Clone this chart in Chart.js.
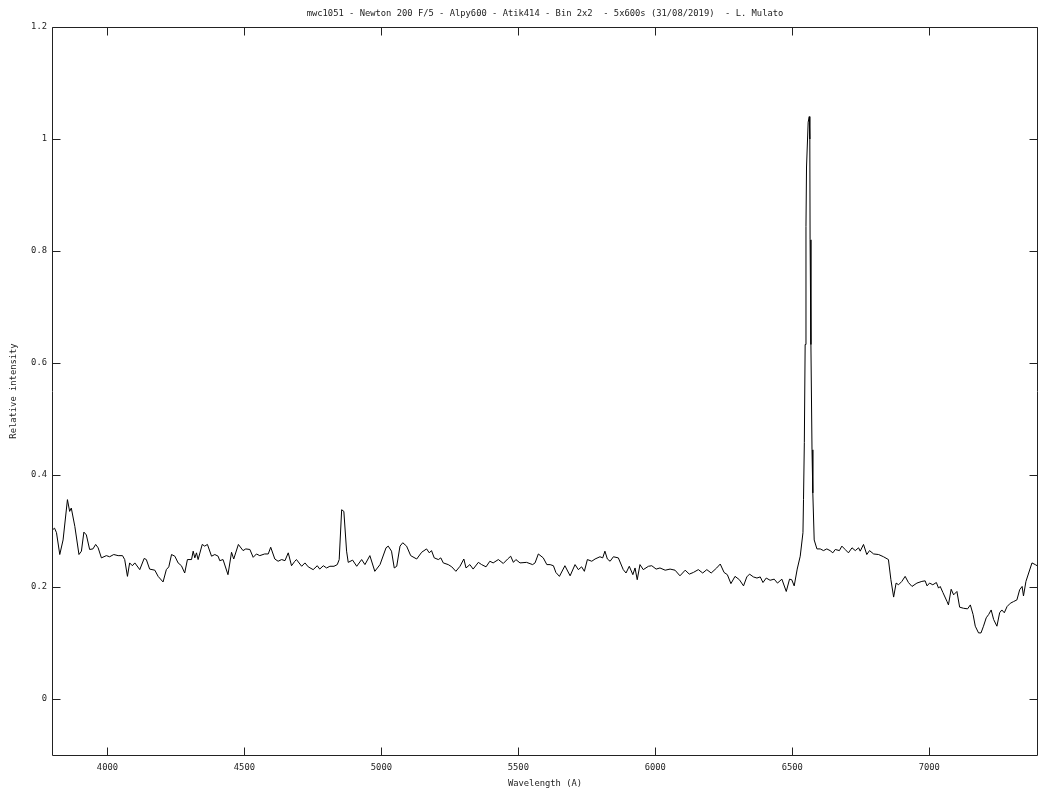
<!DOCTYPE html>
<html>
<head>
<meta charset="utf-8">
<title>mwc1051 spectrum</title>
<script src="https://cdn.jsdelivr.net/npm/chart.js@4.4.1/dist/chart.umd.min.js"></script>
<style>
  html, body { margin: 0; padding: 0; background: #fff; }
  #wrap { width: 1040px; height: 792px; }
</style>
</head>
<body>
<div id="wrap"><canvas id="spectrum" width="1040" height="792"></canvas></div>
<script>
// Wavelength (A) and relative intensity
const waves = [
  3799, 3807, 3814, 3826, 3838, 3854, 3862, 3868, 3881, 3896, 3905, 3914, 3923, 3935, 3947, 3957,
  3966, 3978, 3996, 4008, 4023, 4039, 4055, 4063, 4073, 4081, 4091, 4100, 4118, 4134, 4142, 4154,
  4173, 4185, 4203, 4215, 4224, 4234, 4246, 4258, 4270, 4282, 4292, 4307, 4313, 4319, 4325, 4331,
  4346, 4355, 4365, 4380, 4392, 4404, 4410, 4422, 4440, 4453, 4461, 4478, 4495, 4505, 4520, 4532,
  4544, 4556, 4574, 4587, 4596, 4611, 4623, 4636, 4648, 4660, 4672, 4684, 4690, 4709, 4721, 4733,
  4751, 4766, 4775, 4788, 4800, 4812, 4827, 4839, 4846, 4855, 4863, 4873, 4879, 4895, 4910, 4928,
  4940, 4958, 4976, 4995, 5017, 5025, 5037, 5047, 5056, 5068, 5078, 5092, 5107, 5129, 5147, 5165,
  5175, 5183, 5193, 5208, 5217, 5226, 5244, 5257, 5272, 5287, 5301, 5309, 5323, 5335, 5354, 5366,
  5382, 5396, 5408, 5427, 5445, 5461, 5472, 5482, 5491, 5506, 5530, 5552, 5561, 5573, 5591, 5604,
  5616, 5628, 5637, 5650, 5670, 5689, 5707, 5719, 5731, 5741, 5752, 5768, 5780, 5798, 5808, 5816,
  5825, 5835, 5847, 5865, 5883, 5893, 5905, 5918, 5926, 5934, 5944, 5956, 5975, 5987, 6003, 6017,
  6036, 6054, 6072, 6090, 6109, 6124, 6139, 6157, 6173, 6188, 6204, 6224, 6237, 6251, 6263, 6276,
  6291, 6307, 6322, 6334, 6344, 6358, 6371, 6383, 6393, 6405, 6419, 6434, 6446, 6462, 6478, 6490,
  6498, 6507, 6518, 6529, 6539, 6541, 6544, 6547, 6550, 6552, 6558, 6562, 6564, 6565, 6568, 6572,
  6575, 6580, 6590, 6602, 6614, 6626, 6638, 6648, 6657, 6672, 6681, 6693, 6705, 6718, 6730, 6742,
  6748, 6760, 6772, 6782, 6797, 6815, 6833, 6851, 6860, 6870, 6879, 6888, 6900, 6912, 6924, 6937,
  6955, 6973, 6985, 6992, 7001, 7013, 7026, 7034, 7040, 7050, 7065, 7070, 7080, 7089, 7101, 7111,
  7125, 7140, 7150, 7160, 7168, 7180, 7189, 7198, 7208, 7217, 7226, 7235, 7247, 7257, 7265, 7274,
  7284, 7296, 7308, 7320, 7330, 7339, 7344, 7353, 7363, 7375, 7387, 7397
];
const intensity = [
  0.302, 0.305, 0.297, 0.258, 0.284, 0.356, 0.335, 0.341, 0.308, 0.258, 0.264, 0.298, 0.293, 0.267, 0.268, 0.276,
  0.270, 0.252, 0.256, 0.254, 0.258, 0.256, 0.256, 0.249, 0.219, 0.243, 0.238, 0.243, 0.231, 0.251, 0.249, 0.232,
  0.230, 0.219, 0.209, 0.231, 0.236, 0.258, 0.255, 0.243, 0.238, 0.225, 0.249, 0.249, 0.264, 0.252, 0.261, 0.249,
  0.276, 0.273, 0.276, 0.255, 0.258, 0.255, 0.247, 0.249, 0.222, 0.262, 0.250, 0.276, 0.265, 0.268, 0.267, 0.253,
  0.259, 0.256, 0.259, 0.259, 0.271, 0.250, 0.246, 0.249, 0.247, 0.261, 0.238, 0.246, 0.249, 0.237, 0.243, 0.236,
  0.231, 0.238, 0.232, 0.238, 0.234, 0.237, 0.237, 0.240, 0.249, 0.338, 0.335, 0.264, 0.244, 0.248, 0.237, 0.249,
  0.240, 0.256, 0.228, 0.240, 0.270, 0.273, 0.264, 0.234, 0.237, 0.273, 0.279, 0.273, 0.256, 0.250, 0.262, 0.268,
  0.261, 0.265, 0.252, 0.249, 0.252, 0.243, 0.240, 0.236, 0.228, 0.237, 0.250, 0.234, 0.240, 0.232, 0.244, 0.240,
  0.236, 0.246, 0.243, 0.249, 0.242, 0.250, 0.255, 0.244, 0.249, 0.243, 0.244, 0.240, 0.243, 0.259, 0.252, 0.240,
  0.240, 0.238, 0.226, 0.219, 0.238, 0.220, 0.240, 0.231, 0.236, 0.228, 0.249, 0.246, 0.250, 0.254, 0.252, 0.264,
  0.250, 0.246, 0.254, 0.252, 0.231, 0.225, 0.237, 0.222, 0.234, 0.213, 0.240, 0.231, 0.237, 0.238, 0.232, 0.234,
  0.230, 0.232, 0.230, 0.220, 0.230, 0.223, 0.226, 0.231, 0.225, 0.231, 0.225, 0.234, 0.241, 0.226, 0.222, 0.206,
  0.219, 0.213, 0.202, 0.218, 0.223, 0.218, 0.216, 0.218, 0.208, 0.216, 0.212, 0.214, 0.207, 0.214, 0.192, 0.214,
  0.213, 0.202, 0.232, 0.255, 0.297, 0.356, 0.458, 0.633, 0.844, 0.950, 1.030, 1.040, 1.000, 0.820, 0.633, 0.445,
  0.368, 0.284, 0.268, 0.268, 0.265, 0.268, 0.265, 0.261, 0.267, 0.265, 0.273, 0.267, 0.261, 0.270, 0.265, 0.270,
  0.264, 0.276, 0.258, 0.265, 0.259, 0.258, 0.254, 0.249, 0.213, 0.182, 0.207, 0.204, 0.210, 0.219, 0.208, 0.201,
  0.207, 0.210, 0.211, 0.202, 0.207, 0.204, 0.208, 0.198, 0.201, 0.190, 0.174, 0.168, 0.196, 0.186, 0.192, 0.164,
  0.162, 0.161, 0.168, 0.151, 0.130, 0.118, 0.118, 0.130, 0.145, 0.151, 0.159, 0.142, 0.130, 0.154, 0.159, 0.154,
  0.165, 0.171, 0.174, 0.177, 0.195, 0.201, 0.184, 0.210, 0.225, 0.243, 0.240, 0.237
];
const xTicks = [4000, 4500, 5000, 5500, 6000, 6500, 7000];
const yTicks = [0, 0.2, 0.4, 0.6, 0.8, 1, 1.2];

const FONT = 'DejaVu Sans Mono, Liberation Mono, monospace';
const INK = '#222';

// gnuplot-like frame: box round the plot area with inward ticks on all four sides
const frameTicks = {
    id: 'frameTicks',
    afterDatasetsDraw(chart) {
        const { ctx, chartArea: a, scales: { x, y } } = chart;
        const len = 8;
        const L = a.left + 0.5, R = a.right - 0.5, T = a.top + 0.5, B = a.bottom + 0.5;
        ctx.save();
        ctx.strokeStyle = INK;
        ctx.lineWidth = 1;
        ctx.beginPath();
        ctx.moveTo(L, T); ctx.lineTo(R, T); ctx.lineTo(R, B); ctx.lineTo(L, B); ctx.closePath();
        xTicks.forEach(v => {
            const px = Math.round(x.getPixelForValue(v)) + 0.5;
            ctx.moveTo(px, B); ctx.lineTo(px, B - len);
            ctx.moveTo(px, T); ctx.lineTo(px, T + len);
        });
        yTicks.forEach(v => {
            const py = Math.round(y.getPixelForValue(v)) + 0.5;
            ctx.moveTo(L, py); ctx.lineTo(L + len, py);
            ctx.moveTo(R, py); ctx.lineTo(R - len, py);
        });
        ctx.stroke();
        ctx.restore();
    }
};

const points = waves.map((w, i) => ({ x: w, y: intensity[i] }));

new Chart(document.getElementById('spectrum'), {
    type: 'line',
    data: {
        datasets: [{
            data: points,
            borderColor: '#000',
            borderWidth: 1,
            pointRadius: 0,
            tension: 0,
            fill: false
        }]
    },
    options: {
        responsive: false,
        animation: false,
        devicePixelRatio: 1,
        layout: { padding: { left: 0, right: 2, top: 0, bottom: 0 } },
        plugins: {
            legend: { display: false },
            tooltip: { enabled: false },
            title: {
                display: true,
                fullSize: false,
                text: 'mwc1051 - Newton 200 F/5 - Alpy600 - Atik414 - Bin 2x2  - 5x600s (31/08/2019)  - L. Mulato',
                color: INK,
                font: { family: FONT, size: 8.8, weight: 'normal', lineHeight: '11px' },
                padding: { top: 8, bottom: 8 }
            }
        },
        scales: {
            x: {
                type: 'linear',
                min: 3797.6,
                max: 7397,
                afterBuildTicks: s => { s.ticks = xTicks.map(v => ({ value: v })); },
                afterFit: s => { s.height = 37; },
                grid: { display: false, drawTicks: false },
                border: { display: false },
                ticks: {
                    color: INK,
                    padding: 7,
                    maxRotation: 0,
                    font: { family: FONT, size: 8.8, lineHeight: '11px' },
                    callback: v => String(v)
                },
                title: {
                    display: true,
                    text: 'Wavelength (A)',
                    color: INK,
                    font: { family: FONT, size: 8.8, lineHeight: '11px' },
                    padding: { top: 0, bottom: 2.5 }
                }
            },
            y: {
                type: 'linear',
                min: -0.1,
                max: 1.2,
                afterBuildTicks: s => { s.ticks = yTicks.map(v => ({ value: v })); },
                afterFit: s => { s.width = 52; },
                grid: { display: false, drawTicks: false },
                border: { display: false },
                ticks: {
                    color: INK,
                    padding: 5,
                    font: { family: FONT, size: 8.8, lineHeight: '11px' },
                    callback: v => String(v)
                },
                title: {
                    display: true,
                    text: 'Relative intensity',
                    color: INK,
                    font: { family: FONT, size: 8.8, lineHeight: '11px' },
                    padding: { top: 8.5, bottom: 0 }
                }
            }
        }
    },
    plugins: [frameTicks]
});
</script>
</body>
</html>
